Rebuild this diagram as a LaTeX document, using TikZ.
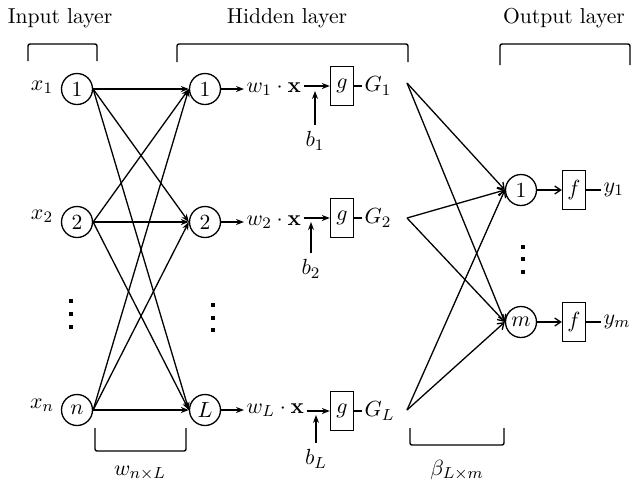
\documentclass[tikz,border=0pt]{standalone}
\usetikzlibrary{arrows.meta}
\begin{document}
\begin{tikzpicture}[x=0.5pt,y=-0.5pt,
  line width=0.65pt,
  every node/.style={font=\fontsize{10.8pt}{13pt}\selectfont},
  neuron/.style={draw,circle,minimum size=15.5pt,inner sep=0pt},
  fbox/.style={draw,rectangle,minimum width=11.5pt,minimum height=19.5pt,inner sep=0pt},
  lbl/.style={inner sep=1pt},
  arr/.style={-{Stealth[length=4pt,width=3pt]}},
  barb/.style={-{Straight Barb[length=3pt,width=4pt]}},
  brk/.style={line width=0.7pt,rounded corners=1pt},
  dotsq/.style={fill=black,minimum size=2.2pt,inner sep=0pt,rectangle}
]
\useasboundingbox (0,0) rectangle (644,494);
% titles
\node[lbl] (tin) at (60,18) {Input layer};
\node[lbl] (thid) at (287,18) {Hidden layer};
\node[lbl] (tout) at (564,18) {Output layer};
% top brackets
\draw[brk] (28,61) -- (28,44) -- (97,44) -- (97,61);
\draw[brk] (177,62) -- (177,44) -- (408,44) -- (408,62);
\draw[brk] (500,65) -- (500,44) -- (630,44) -- (630,65);
% input layer
\node[neuron] (i1) at (77,89) {1};
\node[neuron] (i2) at (77,222) {2};
\node[neuron] (in) at (77,410) {$n$};
\node[lbl] (x1) at (42,87) {$x_1$};
\node[lbl] (x2) at (42,216) {$x_2$};
\node[lbl] (xn) at (42,405) {$x_n$};
\node[dotsq] (di1) at (71,301) {};
\node[dotsq] (di2) at (71,314) {};
\node[dotsq] (di3) at (71,327) {};
% hidden layer
\node[neuron] (h1) at (205,89) {1};
\node[neuron] (h2) at (205,222) {2};
\node[neuron] (hL) at (205,410) {$L$};
\node[dotsq] (dh1) at (213,305) {};
\node[dotsq] (dh2) at (213,318) {};
\node[dotsq] (dh3) at (213,330) {};
\foreach \a in {i1,i2,in}{
  \foreach \b in {h1,h2,hL}{
    \draw[arr] (\a.east) -- (\b.west);
  }
}
% hidden rows
\node[lbl,anchor=west] (wx1) at (244,89) {$w_1\cdot\mathbf{x}$};
\node[lbl,anchor=west] (wx2) at (244,222) {$w_2\cdot\mathbf{x}$};
\node[lbl,anchor=west] (wxL) at (244,410) {$w_L\cdot\mathbf{x}$};
\draw[arr] (h1.east) -- (wx1.west);
\draw[arr] (h2.east) -- (wx2.west);
\draw[arr] (hL.east) -- (wxL.west);
\node[fbox] (g1) at (342,86) {$g$};
\node[fbox] (g2) at (342,218) {$g$};
\node[fbox] (gL) at (342,411) {$g$};
\draw[arr] (wx1.east |- g1.west) -- (g1.west);
\draw[arr] (wx2.east |- g2.west) -- (g2.west);
\draw[arr] (wxL.east |- gL.west) -- (gL.west);
\node[lbl] (b1) at (315,141) {$b_1$};
\node[lbl] (b2) at (311,269) {$b_2$};
\node[lbl] (bL) at (316,459) {$b_L$};
\coordinate (bb1) at (315,91);
\coordinate (bb2) at (311,222);
\coordinate (bbL) at (316,415);
\draw[arr] ([yshift=2pt]b1.north) -- (bb1);
\draw[arr] ([yshift=2pt]b2.north) -- (bb2);
\draw[arr] ([yshift=2pt]bL.north) -- (bbL);
\node[lbl,anchor=west] (G1) at (362,86) {$G_1$};
\node[lbl,anchor=west] (G2) at (362,218) {$G_2$};
\node[lbl,anchor=west] (GL) at (362,411) {$G_L$};
\draw (g1.east) -- (g1.east -| G1.west);
\draw (g2.east) -- (g2.east -| G2.west);
\draw (gL.east) -- (gL.east -| GL.west);
\coordinate (c1) at (407,83);
\coordinate (c2) at (407,218);
\coordinate (cL) at (407,410);
% output layer
\node[neuron] (o1) at (521,190) {1};
\node[neuron] (om) at (521,322) {$m$};
\node[dotsq] (do1) at (523,247) {};
\node[dotsq] (do2) at (523,259) {};
\node[dotsq] (do3) at (523,272) {};
\foreach \a in {c1,c2,cL}{
  \foreach \b in {o1,om}{
    \draw[barb] (\a) -- (\b.west);
  }
}
\node[fbox] (f1) at (574,190) {$f$};
\node[fbox] (fm) at (574,322) {$f$};
\draw[barb] (o1.east) -- (o1.east -| f1.west);
\draw[barb] (om.east) -- (om.east -| fm.west);
\node[lbl,anchor=west] (y1) at (601,190) {$y_1$};
\node[lbl,anchor=west] (ym) at (601,322) {$y_m$};
\draw (f1.east) -- (f1.east -| y1.west);
\draw (fm.east) -- (fm.east -| ym.west);
% bottom brackets
\draw[brk] (95,428) -- (95,451) -- (186,451) -- (186,428);
\node[lbl] (wlab) at (140,473) {$w_{n\times L}$};
\draw[brk] (410,428) -- (410,445) -- (504,445) -- (504,428);
\node[lbl] (blab) at (457,470) {$\beta_{L\times m}$};
\end{tikzpicture}
\end{document}
